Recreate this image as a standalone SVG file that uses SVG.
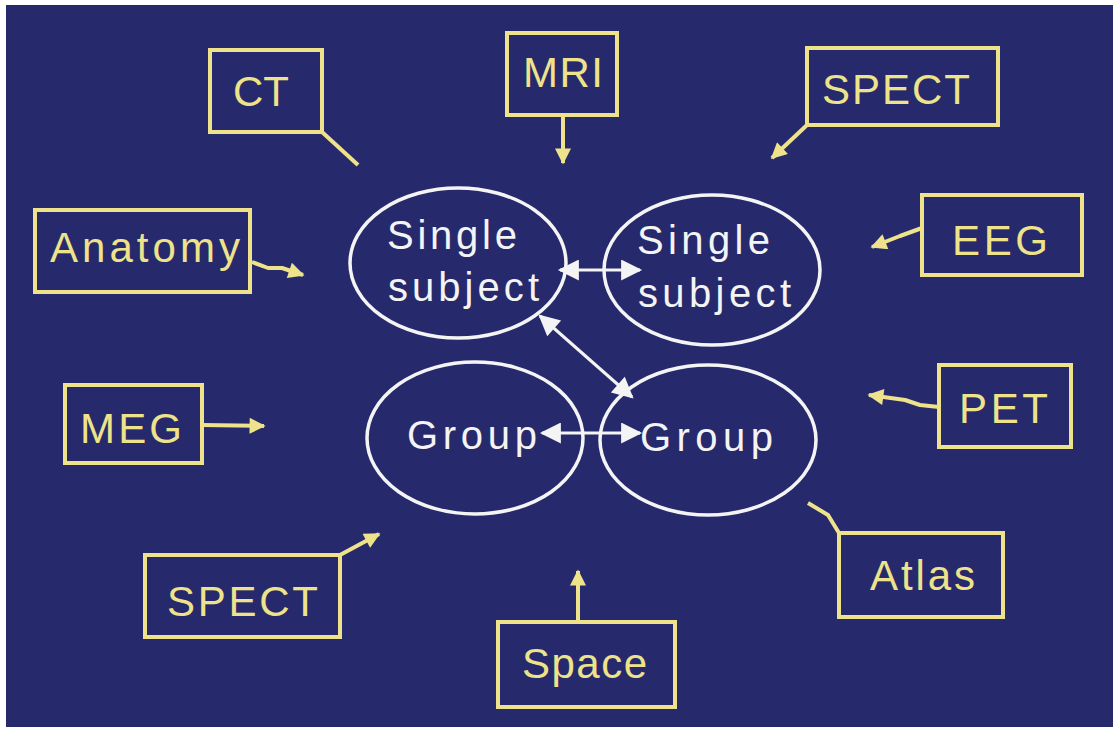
<svg xmlns="http://www.w3.org/2000/svg" width="1117" height="730" viewBox="0 0 1117 730">
<style>
.bg{fill:#262a6c}
.box{fill:none;stroke:#eee38a;stroke-width:4}
.bt{font-family:"Liberation Sans",Arial,sans-serif;font-size:42px;fill:#eee38a}
.ell{fill:none;stroke:#f4f4f4;stroke-width:3.5}
.et{font-family:"Liberation Sans",Arial,sans-serif;font-size:40px;fill:#f4f4f4}
.yl{fill:none;stroke:#eee38a;stroke-width:4;stroke-linejoin:round}
.wl{fill:none;stroke:#f4f4f4;stroke-width:3}
</style>
<defs>
<marker id="ya" viewBox="0 0 10 10" refX="9" refY="5" markerWidth="5" markerHeight="4" orient="auto" markerUnits="strokeWidth">
<path d="M0,0 L10,5 L0,10 z" fill="#eee38a"/>
</marker>
<marker id="wa" viewBox="0 0 10 10" refX="9" refY="5" markerWidth="8" markerHeight="7" orient="auto-start-reverse" markerUnits="strokeWidth">
<path d="M0,0 L10,5 L0,10 z" fill="#f4f4f4"/>
</marker>
</defs>
<rect x="0" y="0" width="1117" height="730" fill="#ffffff"/>
<rect class="bg" x="6" y="5" width="1107" height="722"/>

<g id="connectors">
<line class="yl" x1="322" y1="132" x2="358" y2="165"/>
<line class="yl" x1="563" y1="115" x2="563" y2="163" marker-end="url(#ya)"/>
<line class="yl" x1="807" y1="125" x2="772" y2="158" marker-end="url(#ya)"/>
<polyline class="yl" points="252,262 268,268 282,268 303,275" marker-end="url(#ya)"/>
<polyline class="yl" points="922,228 900,236 872,247" marker-end="url(#ya)"/>
<line class="yl" x1="202" y1="425" x2="264" y2="426" marker-end="url(#ya)"/>
<polyline class="yl" points="939,407 920,405 905,400 869,395" marker-end="url(#ya)"/>
<line class="yl" x1="340" y1="555" x2="379" y2="534" marker-end="url(#ya)"/>
<polyline class="yl" points="839,533 828,515 808,503"/>
<line class="yl" x1="578" y1="622" x2="578" y2="571" marker-end="url(#ya)"/>
<line class="wl" x1="560" y1="270" x2="640" y2="270" marker-start="url(#wa)" marker-end="url(#wa)"/>
<line class="wl" x1="540" y1="316" x2="632" y2="397" marker-start="url(#wa)" marker-end="url(#wa)"/>
<line class="wl" x1="542" y1="433" x2="640" y2="433" marker-start="url(#wa)" marker-end="url(#wa)"/>
</g>

<g id="n-ss1"><ellipse class="ell" cx="458" cy="263" rx="108" ry="75"/>
<text class="et" x="387" y="249" textLength="130" lengthAdjust="spacing">Single</text>
<text class="et" x="388" y="301" textLength="151" lengthAdjust="spacing">subject</text></g>
<g id="n-ss2"><ellipse class="ell" cx="712" cy="270" rx="108" ry="75"/>
<text class="et" x="637" y="254" textLength="133" lengthAdjust="spacing">Single</text>
<text class="et" x="638" y="307" textLength="153" lengthAdjust="spacing">subject</text></g>
<g id="n-g1"><ellipse class="ell" cx="475" cy="438" rx="108" ry="76"/>
<text class="et" x="407" y="449" textLength="130" lengthAdjust="spacing">Group</text></g>
<g id="n-g2"><ellipse class="ell" cx="708" cy="440" rx="108" ry="75"/>
<text class="et" x="640" y="451" textLength="133" lengthAdjust="spacing">Group</text></g>

<g id="n-ct"><rect class="box" x="210" y="50" width="112" height="82"/>
<text class="bt" x="233" y="106" textLength="56" lengthAdjust="spacing">CT</text></g>
<g id="n-mri"><rect class="box" x="507" y="33" width="110" height="82"/>
<text class="bt" x="523" y="87" textLength="80" lengthAdjust="spacing">MRI</text></g>
<g id="n-spect1"><rect class="box" x="807" y="48" width="191" height="77"/>
<text class="bt" x="822" y="104" textLength="148" lengthAdjust="spacing">SPECT</text></g>
<g id="n-anat"><rect class="box" x="35" y="210" width="215" height="82"/>
<text class="bt" x="50" y="262" textLength="190" lengthAdjust="spacing">Anatomy</text></g>
<g id="n-eeg"><rect class="box" x="922" y="195" width="160" height="80"/>
<text class="bt" x="952" y="255" textLength="96" lengthAdjust="spacing">EEG</text></g>
<g id="n-meg"><rect class="box" x="65" y="385" width="137" height="78"/>
<text class="bt" x="80" y="443" textLength="102" lengthAdjust="spacing">MEG</text></g>
<g id="n-pet"><rect class="box" x="939" y="365" width="132" height="82"/>
<text class="bt" x="959" y="423" textLength="89" lengthAdjust="spacing">PET</text></g>
<g id="n-spect2"><rect class="box" x="145" y="555" width="195" height="82"/>
<text class="bt" x="167" y="616" textLength="151" lengthAdjust="spacing">SPECT</text></g>
<g id="n-atlas"><rect class="box" x="839" y="533" width="164" height="84"/>
<text class="bt" x="870" y="590" textLength="105" lengthAdjust="spacing">Atlas</text></g>
<g id="n-space"><rect class="box" x="498" y="622" width="177" height="85"/>
<text class="bt" x="522" y="678" textLength="125" lengthAdjust="spacing">Space</text></g>
</svg>
